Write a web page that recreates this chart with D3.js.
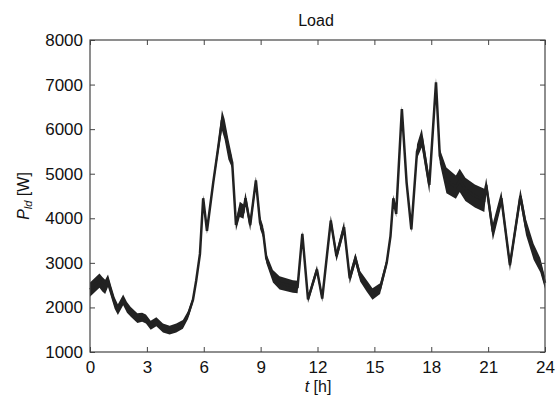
<!DOCTYPE html>
<html><head><meta charset="utf-8">
<script src="https://cdn.jsdelivr.net/npm/d3@7/dist/d3.min.js"></script>
<style>
body{margin:0;background:#fff;}
svg{display:block;font-family:"Liberation Sans",Arial,Helvetica,sans-serif;}
</style></head>
<body><svg id="c" width="558" height="401"></svg>
<script>
const hours = [0.0,0.25,0.5,0.65,0.8,0.95,1.1,1.3,1.47,1.75,1.95,2.15,2.5,2.75,2.95,3.2,3.5,3.85,4.2,4.55,4.9,5.17,5.43,5.6,5.8,5.97,6.17,6.5,6.75,6.96,7.1,7.3,7.5,7.7,7.9,8.1,8.2,8.45,8.75,8.97,9.13,9.3,9.65,10.0,10.7,10.95,11.2,11.5,11.97,12.25,12.7,13.0,13.4,13.7,14.0,14.25,14.6,14.9,15.3,15.65,15.85,16.0,16.15,16.45,16.7,16.95,17.25,17.5,17.9,18.25,18.45,18.8,19.3,19.5,19.8,20.3,20.8,20.9,21.25,21.7,22.15,22.7,23.0,23.4,23.75,24.0];
const loadMid = [2400,2500,2600,2520,2460,2600,2380,2100,1950,2170,2000,1900,1760,1780,1740,1600,1680,1540,1490,1540,1620,1830,2170,2600,3200,4450,3720,4800,5550,6200,6000,5550,5250,3850,4200,4150,4450,3850,4850,3900,3700,3100,2700,2550,2470,2460,3650,2180,2850,2200,3950,3150,3800,2650,3100,2700,2480,2300,2420,3000,3600,4450,4100,6450,4800,3750,5500,5800,4750,7050,5400,4850,4700,4850,4650,4500,4400,4750,3700,4450,2950,4500,3800,3250,2950,2550];
const loadSpread = [160,160,160,160,160,140,130,130,120,120,120,110,110,100,100,100,100,100,100,100,100,90,70,60,60,70,70,80,130,230,230,230,130,130,170,160,140,130,90,140,130,110,140,150,140,140,60,80,90,80,110,120,130,120,120,120,130,130,120,90,70,80,80,70,70,70,160,210,190,100,160,290,260,260,260,260,260,160,190,160,130,160,180,180,160,130];
const xTicks = [0,3,6,9,12,15,18,21,24];
const yTicks = [1000,2000,3000,4000,5000,6000,7000,8000];
const titleText = "Load";

const svg = d3.select("#c");
const L = 90, R = 545, T = 40, B = 352;
const x = d3.scaleLinear().domain([0,24]).range([L,R]);
const y = d3.scaleLinear().domain([1000,8000]).range([B,T]);

const data = hours.map((h,i)=>({h, lo: loadMid[i]-loadSpread[i], hi: loadMid[i]+loadSpread[i], m: loadMid[i]}));

svg.append("path").datum(data)
  .attr("d", d3.area().x(d=>x(d.h)).y0(d=>y(d.lo)).y1(d=>y(d.hi)))
  .attr("fill","#222");
svg.append("path").datum(data)
  .attr("d", d3.line().x(d=>x(d.h)).y(d=>y(d.m)))
  .attr("fill","none").attr("stroke","#222").attr("stroke-width",2.5);

const axColor = "#444";
function style(g, labels){
  g.select(".domain").remove();
  g.selectAll(".tick line").attr("stroke",axColor);
  g.selectAll(".tick text").attr("fill","#111").style("font-size","17px");
  if(!labels) g.selectAll(".tick text").remove();
}
svg.append("g").attr("transform",`translate(0,${B})`)
  .call(d3.axisBottom(x).tickValues(xTicks).tickSize(-5).tickPadding(9).tickFormat(d3.format("d")))
  .call(g=>style(g,true));
svg.append("g").attr("transform",`translate(0,${T})`)
  .call(d3.axisTop(x).tickValues(xTicks).tickSize(-5))
  .call(g=>style(g,false));
svg.append("g").attr("transform",`translate(${L},0)`)
  .call(d3.axisLeft(y).tickValues(yTicks).tickSize(-5).tickPadding(7).tickFormat(d3.format("d")))
  .call(g=>style(g,true));
svg.append("g").attr("transform",`translate(${R},0)`)
  .call(d3.axisRight(y).tickValues(yTicks).tickSize(-5))
  .call(g=>style(g,false));

svg.append("rect").attr("x",L).attr("y",T).attr("width",R-L).attr("height",B-T)
  .attr("fill","none").attr("stroke",axColor).attr("stroke-width",1.2);

svg.append("text").attr("x",316).attr("y",26).attr("text-anchor","middle")
  .style("font-size","16px").attr("fill","#111").text(titleText);

const xl = svg.append("text").attr("x",318).attr("y",392).attr("text-anchor","middle")
  .style("font-size","16px").attr("fill","#111");
xl.append("tspan").style("font-style","italic").text("t");
xl.append("tspan").text(" [h]");

const yl = svg.append("text").attr("transform","translate(29,196) rotate(-90)").attr("text-anchor","middle")
  .style("font-size","16px").attr("fill","#111");
yl.append("tspan").style("font-style","italic").text("P");
yl.append("tspan").style("font-style","italic").style("font-size","11px").attr("dy",3).text("ld");
yl.append("tspan").attr("dy",-3).text(" [W]");
</script></body></html>
